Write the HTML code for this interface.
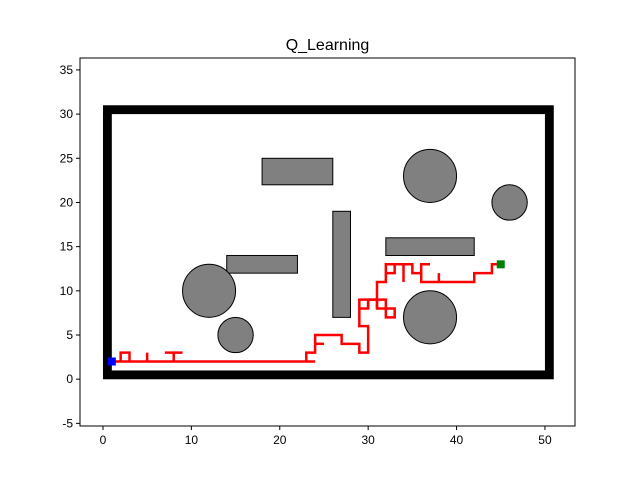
<!DOCTYPE html>
<html><head><meta charset="utf-8"><style>
body{margin:0;background:#fff;font-family:"Liberation Sans",sans-serif}
text{font-family:"Liberation Sans",sans-serif}
</style></head><body>
<svg id="c" width="640" height="480" xmlns="http://www.w3.org/2000/svg">
<rect width="640" height="480" fill="#fff"/>
<text x="327.5" y="50" text-anchor="middle" font-size="16">Q_Learning</text>
</svg>
<script>
const xTicks=[0,10,20,30,40,50];
const yTicks=[-5,0,5,10,15,20,25,30,35];
const rects=[[18,22,8,3],[14,12,8,2],[26,7,2,12],[32,14,10,2]];
const circles=[[37,23,3],[46,20,2],[12,10,3],[15,5,2],[37,7,3]];
const wall=[0.5,0.5,50,30];
const start=[1,2];
const goal=[45,13];
const pathSegs=[
 [[1,2],[24,2]],
 [[2,2],[2,3],[3,3],[3,2]],
 [[5,2],[5,3]],
 [[7,3],[9,3]],[[8,3],[8,2]],
 [[23,2],[23,3],[24,3],[24,5],[27,5],[27,4],[29,4],[29,3],[30,3],[30,6],[29,6],[29,9],[31,9],[31,11],[32,11],[32,13],[35,13],[35,12],[36,12],[36,13],[37,13]],
 [[24,4],[25,4]],
 [[29,8],[30,8],[30,9]],
 [[30,8],[30,9],[32,9],[32,8],[33,8],[33,7],[32,7],[32,8]],
 [[31,8],[31,9]],
 [[31,9],[31,8],[32,8]],
 [[32,12],[33,12],[33,13]],
 [[34,13],[34,11]],
 [[36,12],[36,11],[42,11],[42,12],[44,12],[44,13],[45,13]],
 [[38,11],[38,12]]
];
const L=80,R=575,T=58,B=426,X0=-2.6,X1=53.4,Y0=-5.3,Y1=36.35;
const sx=v=>L+(v-X0)/(X1-X0)*(R-L);
const sy=v=>B-(v-Y0)/(Y1-Y0)*(B-T);
const svg=document.getElementById('c');
const NS='http://www.w3.org/2000/svg';
function mk(t,a){const e=document.createElementNS(NS,t);for(const k in a)e.setAttribute(k,a[k]);svg.appendChild(e);return e;}
const k=(R-L)/(X1-X0);
let w=mk('rect',{x:sx(wall[0]),y:sy(wall[1]+wall[3]),width:wall[2]*k,height:wall[3]*k,fill:'none',stroke:'#000','stroke-width':k});


rects.forEach(r=>{const e=mk('rect',{x:sx(r[0]),y:sy(r[1]+r[3]),width:r[2]*k,height:r[3]*k,fill:'#808080',stroke:'#000','stroke-width':1});

});
circles.forEach(c=>{const e=mk('circle',{cx:sx(c[0]),cy:sy(c[1]),r:c[2]*k,fill:'#808080',stroke:'#000','stroke-width':1});

});
pathSegs.forEach(s=>{const e=mk('polyline',{points:s.map(p=>sx(p[0])+','+sy(p[1])).join(' '),fill:'none',stroke:'#f00','stroke-width':2.5});

});
let s=mk('rect',{x:sx(start[0])-4,y:sy(start[1])-4,width:8,height:8,fill:'#00f'});


let g=mk('rect',{x:sx(goal[0])-4,y:sy(goal[1])-4,width:8,height:8,fill:'#008000'});


let f=mk('rect',{x:L,y:T,width:R-L,height:B-T,fill:'none',stroke:'#000','stroke-width':1});


xTicks.forEach(v=>{mk('line',{x1:sx(v),x2:sx(v),y1:B,y2:B+4,stroke:'#000'});
const t=mk('text',{x:sx(v),y:B+18,'text-anchor':'middle','font-size':12});t.textContent=v;

});
yTicks.forEach(v=>{mk('line',{x1:L-4,x2:L,y1:sy(v),y2:sy(v),stroke:'#000'});
const t=mk('text',{x:L-7,y:sy(v)+4,'text-anchor':'end','font-size':12});t.textContent=v;

});
</script>
</body></html>
